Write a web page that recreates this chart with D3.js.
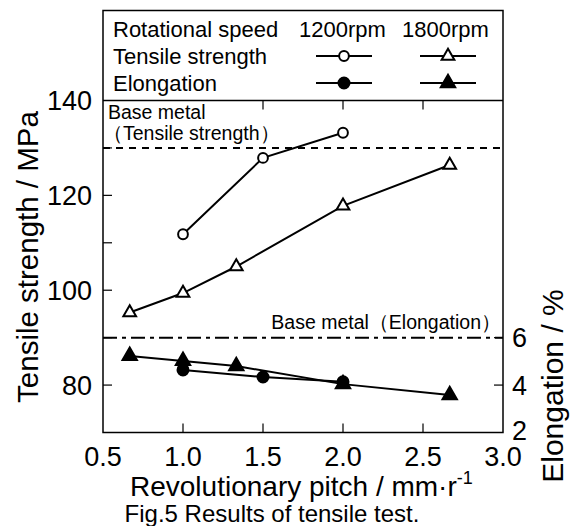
<!DOCTYPE html>
<html>
<head>
<meta charset="utf-8">
<script src="https://cdn.jsdelivr.net/npm/d3@7"></script>
<style>
  body { margin: 0; background: #fff; }
  svg { display: block; font-family: "Liberation Sans", Arial, sans-serif; }
</style>
</head>
<body>
<div id="chart"></div>
<script>
// revolutionary pitch (mm/r)
const pitch1200 = [1.0, 1.5, 2.0];
const pitch1800 = [0.667, 1.0, 1.333, 2.0, 2.667];

// tensile strength (MPa)
const tensile1200 = [111.8, 127.9, 133.2];
const tensile1800 = [95.3, 99.4, 105.0, 117.8, 126.4];

// elongation (%)
const elong1200 = [4.64, 4.34, 4.14];
const elong1800 = [5.23, 5.02, 4.8, 4.04, 3.58];

const baseTensile = 130;
const baseElong = 6;

const xTicks = [0.5, 1.0, 1.5, 2.0, 2.5, 3.0];
const yTicks = [80, 100, 120, 140];
const yMinor = [80, 90, 100, 110, 120, 130];
const y2Ticks = [2, 4, 6];

const width = 574, height = 526;
const pLeft = 103, pRight = 503, pTop = 100.5, pBottom = 432.5, boxTop = 10.5;

const svg = d3.select("#chart").append("svg")
  .attr("width", width)
  .attr("height", height);

const x = d3.scaleLinear().domain([0.5, 3.0]).range([pLeft, pRight]);
const y = d3.scaleLinear().domain([70, 140]).range([pBottom, pTop]);
const y2 = d3.scaleLinear().domain([2, 16]).range([pBottom, pTop]);

// frame
svg.append("rect")
  .attr("x", pLeft).attr("y", boxTop)
  .attr("width", pRight - pLeft).attr("height", pBottom - boxTop)
  .attr("fill", "none").attr("stroke", "#000").attr("stroke-width", 1.5);
svg.append("line")
  .attr("x1", pLeft).attr("x2", pRight).attr("y1", pTop).attr("y2", pTop)
  .attr("stroke", "#000").attr("stroke-width", 1.5);

// inner ticks
const tickLen = 9;
const tk = svg.append("g").attr("stroke", "#000").attr("stroke-width", 1.2);
tk.selectAll(".bt").data(xTicks.slice(1, -1)).join("line")
  .attr("x1", d => x(d)).attr("x2", d => x(d))
  .attr("y1", pBottom).attr("y2", pBottom - tickLen);
tk.selectAll(".tt").data([1.5, 2.0, 2.5]).join("line")
  .attr("x1", d => x(d)).attr("x2", d => x(d))
  .attr("y1", pTop).attr("y2", pTop + tickLen);
tk.selectAll(".lt").data(yMinor).join("line")
  .attr("x1", pLeft).attr("x2", pLeft + tickLen)
  .attr("y1", d => y(d)).attr("y2", d => y(d));
tk.selectAll(".rt").data([4, 6]).join("line")
  .attr("x1", pRight).attr("x2", pRight - tickLen)
  .attr("y1", d => y2(d)).attr("y2", d => y2(d));

// tick labels
svg.append("g").selectAll("text").data(xTicks).join("text")
  .attr("x", d => x(d)).attr("y", 466)
  .attr("text-anchor", "middle").attr("font-size", 27)
  .text(d3.format(".1f"));
svg.append("g").selectAll("text").data(yTicks).join("text")
  .attr("x", 92).attr("y", d => y(d)).attr("dy", "0.36em")
  .attr("text-anchor", "end").attr("font-size", 27)
  .text(d => d);
svg.append("g").selectAll("text").data(y2Ticks).join("text")
  .attr("x", 512).attr("y", d => y2(d) - (d === 2 ? 2 : 0)).attr("dy", "0.36em")
  .attr("font-size", 27)
  .text(d => d);

// axis titles
svg.append("text")
  .attr("transform", "translate(38,257) rotate(-90)")
  .attr("text-anchor", "middle").attr("font-size", 29.5)
  .text("Tensile strength / MPa");
svg.append("text")
  .attr("transform", "translate(563,386) rotate(-90)")
  .attr("text-anchor", "middle").attr("font-size", 30)
  .text("Elongation / %");
const xt = svg.append("text")
  .attr("x", 130).attr("y", 496).attr("font-size", 28);
xt.append("tspan").text("Revolutionary pitch / mm·r");
xt.append("tspan").attr("dy", -12).attr("font-size", 18).text("-1");
svg.append("text")
  .attr("x", 272).attr("y", 522).attr("text-anchor", "middle").attr("font-size", 24)
  .text("Fig.5 Results of tensile test.");

// base metal reference lines
svg.append("line")
  .attr("x1", pLeft).attr("x2", pRight)
  .attr("y1", y(baseTensile)).attr("y2", y(baseTensile))
  .attr("stroke", "#000").attr("stroke-width", 2).attr("stroke-dasharray", "7,6");
svg.append("line")
  .attr("x1", pLeft).attr("x2", pRight)
  .attr("y1", y2(baseElong)).attr("y2", y2(baseElong))
  .attr("stroke", "#000").attr("stroke-width", 2).attr("stroke-dasharray", "14,5,4,5");

svg.append("text").attr("x", 108).attr("y", 119).attr("font-size", 19.5).text("Base metal");
svg.append("text").attr("x", 103).attr("y", 140).attr("font-size", 19.5).text("（Tensile strength）");
svg.append("text").attr("x", 501).attr("y", 329).attr("text-anchor", "end")
  .attr("font-size", 19.5).text("Base metal（Elongation）");

// series
const series = [
  { xs: pitch1200, vs: tensile1200, sc: y, shape: d3.symbolCircle, fill: "#fff", size: 75 },
  { xs: pitch1800, vs: tensile1800, sc: y, shape: d3.symbolTriangle, fill: "#fff", size: 70 },
  { xs: pitch1200, vs: elong1200, sc: y2, shape: d3.symbolCircle, fill: "#000", size: 95 },
  { xs: pitch1800, vs: elong1800, sc: y2, shape: d3.symbolTriangle, fill: "#000", size: 90 }
];

const line = d3.line();
series.forEach(s => {
  const pts = s.xs.map((d, i) => [x(d), s.sc(s.vs[i])]);
  svg.append("path")
    .attr("d", line(pts))
    .attr("fill", "none").attr("stroke", "#000").attr("stroke-width", 2);
  svg.append("g").selectAll("path").data(pts).join("path")
    .attr("transform", d => `translate(${d[0]},${d[1]})`)
    .attr("d", d3.symbol(s.shape, s.size))
    .attr("fill", s.fill).attr("stroke", "#000").attr("stroke-width", 2);
});

// legend
const lg = svg.append("g").attr("font-size", 22);
lg.append("text").attr("x", 113).attr("y", 37).text("Rotational speed");
lg.append("text").attr("x", 299).attr("y", 37).text("1200rpm");
lg.append("text").attr("x", 402).attr("y", 37).text("1800rpm");
lg.append("text").attr("x", 113).attr("y", 64).text("Tensile strength");
lg.append("text").attr("x", 113).attr("y", 91).text("Elongation");

const legendItems = [
  { cx: 344, cy: 56, s: series[0] },
  { cx: 448, cy: 56, s: series[1] },
  { cx: 344, cy: 83, s: series[2] },
  { cx: 448, cy: 83, s: series[3] }
];
legendItems.forEach(it => {
  lg.append("line")
    .attr("x1", it.cx - 28).attr("x2", it.cx + 28)
    .attr("y1", it.cy).attr("y2", it.cy)
    .attr("stroke", "#000").attr("stroke-width", 2);
  lg.append("path")
    .attr("transform", `translate(${it.cx},${it.cy})`)
    .attr("d", d3.symbol(it.s.shape, it.s.size))
    .attr("fill", it.s.fill).attr("stroke", "#000").attr("stroke-width", 2);
});
</script>
</body>
</html>
